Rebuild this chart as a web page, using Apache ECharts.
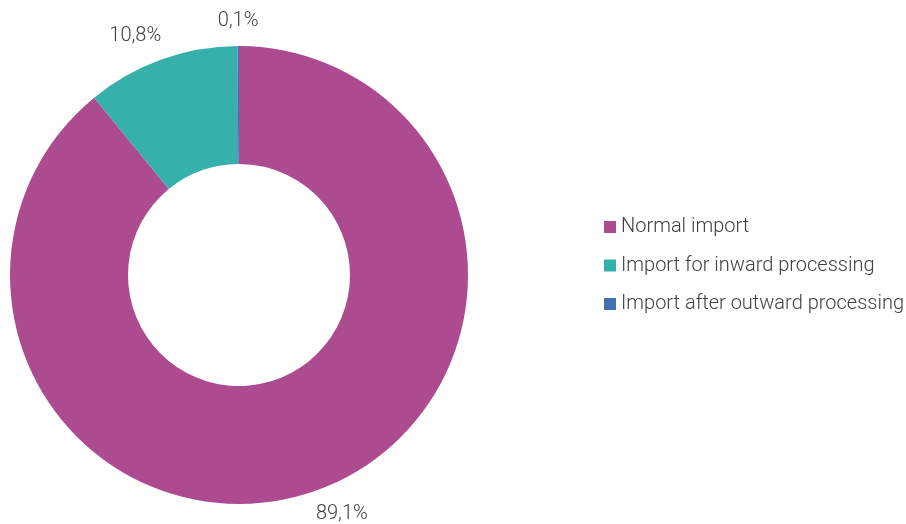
<!DOCTYPE html>
<html>
<head>
<meta charset="utf-8">
<script src="https://cdn.jsdelivr.net/npm/echarts@6/dist/echarts.min.js"></script>
<style>
  html, body { margin: 0; padding: 0; background: #fff; }
  #main { width: 906px; height: 524px; }
</style>
</head>
<body>
<div id="main"></div>
<script>
var categories = ['Normal import', 'Import for inward processing', 'Import after outward processing'];
var shares = [89.1, 10.8, 0.1];
var colors = ['#AD4B91', '#35B0AA', '#4470B8'];

var cx = 239, cy = 275, rIn = 111, rOut = 229;

// mid angle of each slice, clockwise from 12 o'clock
var total = shares.reduce(function (a, b) { return a + b; }, 0);
var midAngles = [];
var acc = 0;
shares.forEach(function (v) {
    midAngles.push((acc + v / 2) / total * 2 * Math.PI);
    acc += v;
});

var myChart = echarts.init(document.getElementById('main'));

var option = {
    backgroundColor: '#fff',
    color: colors,
    textStyle: { fontFamily: 'Roboto', fontWeight: 300 },
    legend: {
        orient: 'vertical',
        left: 599,
        top: 212,
        itemWidth: 12,
        itemHeight: 12,
        itemGap: 18.5,
        icon: 'rect',
        textStyle: { fontSize: 20, lineHeight: 20, color: '#404040', fontFamily: 'Roboto', fontWeight: 300 },
        data: categories
    },
    series: [{
        name: 'Import',
        type: 'pie',
        center: [cx, cy],
        radius: [rIn, rOut],
        startAngle: 90,
        clockwise: true,
        avoidLabelOverlap: false,
        label: {
            show: true,
            position: 'outside',
            fontSize: 20,
            color: '#404040',
            fontFamily: 'Roboto',
            fontWeight: 300,
            formatter: function (p) {
                return p.value.toFixed(1).replace('.', ',') + '%';
            }
        },
        labelLine: { show: false },
        labelLayout: function (params) {
            var a = midAngles[params.dataIndex];
            var dx = Math.sin(a), dy = -Math.cos(a);
            var w = params.labelRect.width, h = params.labelRect.height;
            var gap = 15;
            return {
                x: cx + dx * (rOut + gap) + dx * w * 1.2,
                y: cy + dy * (rOut + gap) + dy * h / 2,
                align: 'center',
                verticalAlign: 'middle'
            };
        },
        itemStyle: { borderWidth: 0 },
        emphasis: { disabled: true },
        data: categories.map(function (c, i) {
            return { name: c, value: shares[i] };
        })
    }]
};

myChart.setOption(option);
</script>
</body>
</html>
